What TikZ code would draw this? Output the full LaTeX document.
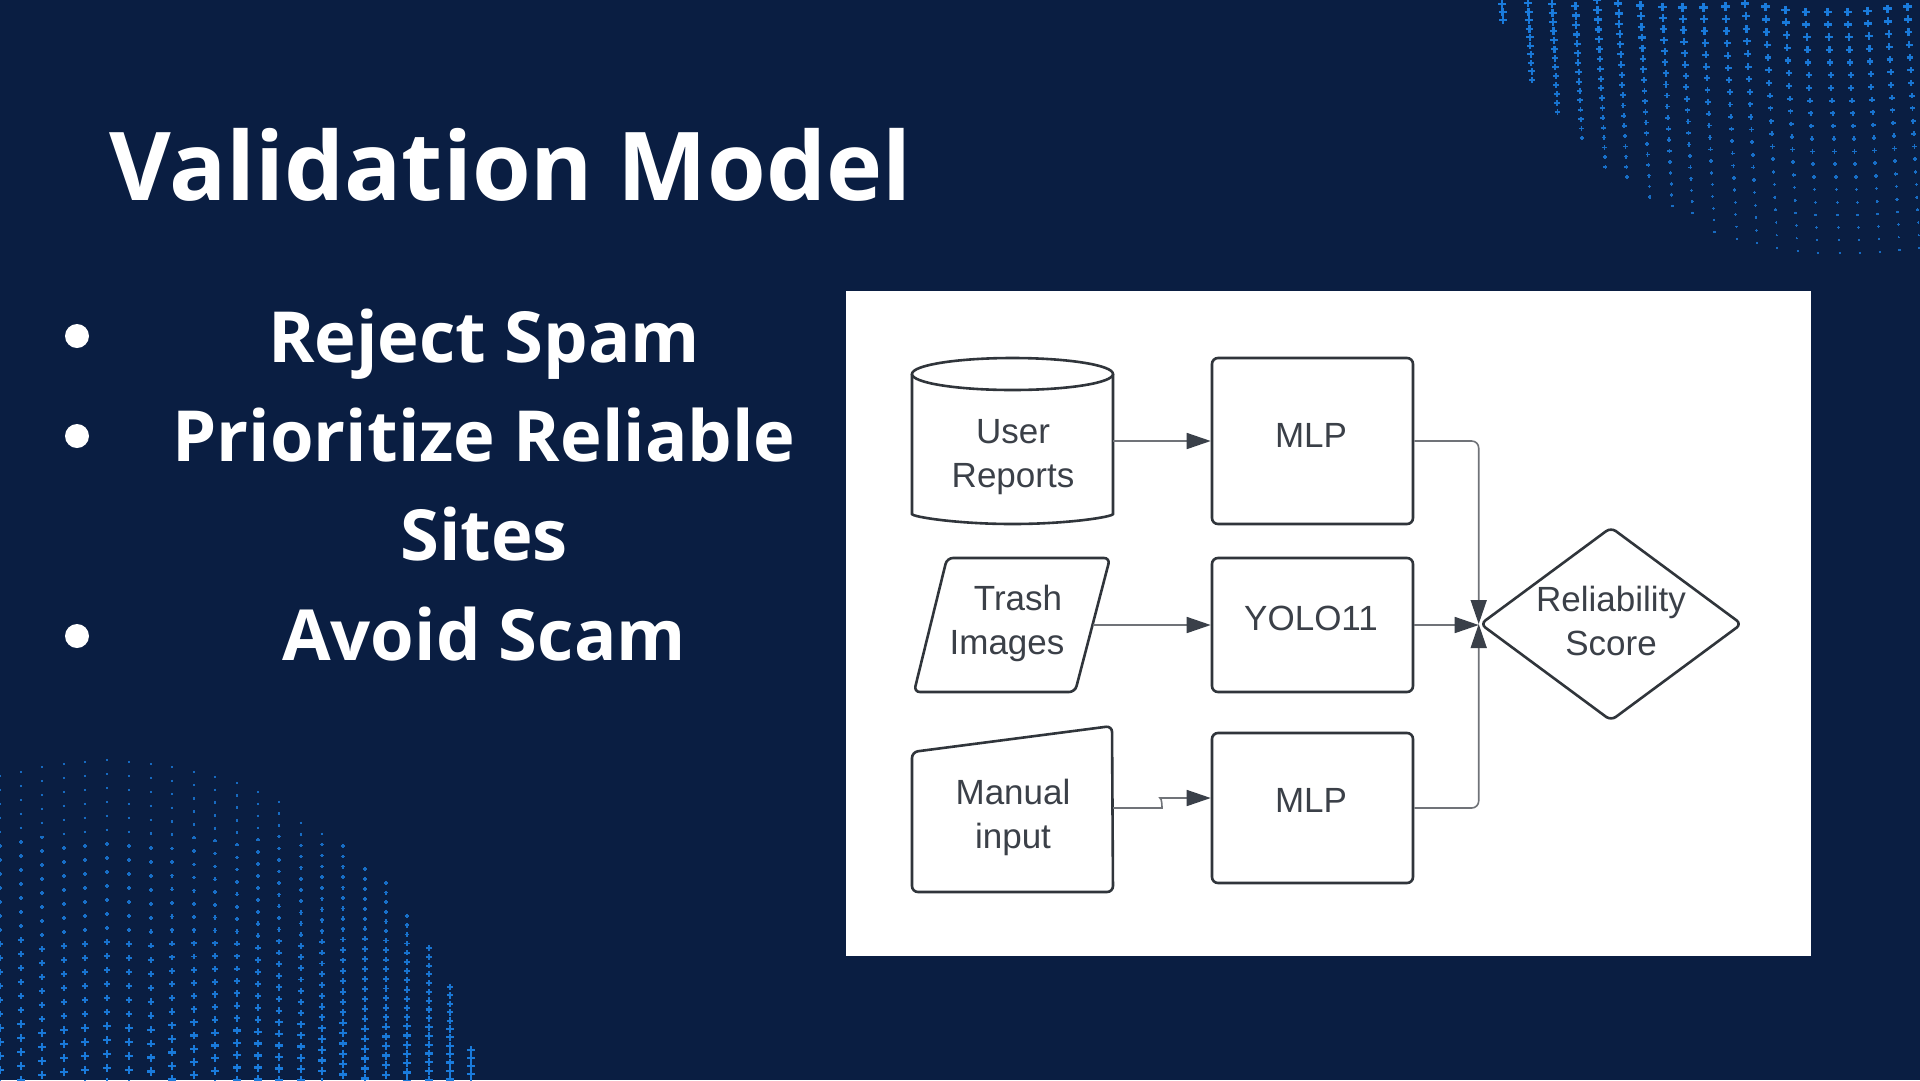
\documentclass[tikz,border=0pt]{standalone}
\usepackage{fontspec}
\setmainfont{Open Sans}
\newfontfamily\diagfont{Liberation Sans}
\usetikzlibrary{arrows.meta,shapes.geometric}

\definecolor{bgc}{HTML}{0A1E42}
\definecolor{plusc}{HTML}{1A7BDC}
\definecolor{boxc}{HTML}{30353B}
\definecolor{txtc}{HTML}{3B4048}
\definecolor{linec}{HTML}{707378}
\definecolor{tipc}{HTML}{3A4049}

\begin{document}
\begin{tikzpicture}[x=1pt,y=-1pt,
  flowbox/.style={draw=boxc, line width=2.6pt, rounded corners=6pt, fill=white,
                  minimum width=201pt, inner sep=0pt},
  outline/.style={draw=boxc, line width=2.6pt, rounded corners=6pt, fill=white},
  anchorbox/.style={inner sep=0pt, outer sep=0pt},
  flowtext/.style={font=\diagfont\fontsize{35}{44}\selectfont, text=txtc,
                   align=center, inner sep=0pt},
  link/.style={draw=linec, line width=1.6pt, rounded corners=7pt},
  tip/.style={-{Triangle[length=24pt,width=16pt,color=tipc]}},
  headline/.style={text=white, inner sep=0pt,
                   font=\bfseries\fontsize{95}{95}\selectfont},
  bullettext/.style={text=white, inner sep=0pt, anchor=base,
                     font=\bfseries\fontsize{70.5}{70.5}\selectfont},
  bulletdot/.style={circle, fill=white, minimum size=24pt, inner sep=0pt}]

% slide background
\fill[bgc] (0,0) rectangle (1920,1080);
\useasboundingbox (0,0) rectangle (1920,1080);

% field of small crosses, upper right corner (columns lean slightly right)
\foreach \cx/\cb in {1502/20,1528/80,1552/112,1575/138,1597/167,1618/177,
                     1640/197,1662/206,1682/213,1703/232,1725/239,1745/243,
                     1765/248,1785/251,1805/253,1827/253,1847/253,1867/252,
                     1887/250,1907/248}{
  \pgfmathsetmacro\colsp{8+4.7*min(1,(\cx-1500)/250)}
  \pgfmathtruncatemacro\nrows{\cb/\colsp}
  \foreach \k in {0,...,\nrows}{
    \pgfmathsetmacro\ppy{\cb-\k*\colsp}
    \pgfmathsetmacro\ppx{\cx+0.05*\ppy}
    \pgfmathsetmacro\pw{2+6.5*((255-\ppy)/255)^1.2}
    \pgfmathsetmacro\parm{\pw/2}
    \pgfmathsetmacro\plw{0.6+0.22*\pw}
    \pgfmathsetmacro\pop{0.75+0.25*min(1,\pw/8)}
    \draw[plusc, line width=\plw pt, opacity=\pop]
      (\ppx-\parm,\ppy) -- (\ppx+\parm,\ppy) (\ppx,\ppy-\parm) -- (\ppx,\ppy+\parm);
  }
}

% field of small crosses, lower left corner
\foreach \cx/\ct in {0/776,21/772,42/767,64/764,85/762,107/760,129/762,151/764,
                     172/767,194/772,215/777,237/783,258/792,279/802,301/823,
                     322/834,343/846,365/869,386/883,407/916,429/948,450/987,
                     471/1050}{
  \pgfmathsetmacro\colsp{ifthenelse(\cx<150,14,14-6*(\cx-150)/321)}
  \pgfmathtruncatemacro\nrows{(1084-\ct)/\colsp}
  \foreach \k in {0,...,\nrows}{
    \pgfmathsetmacro\ppy{\ct+\k*\colsp}
    \pgfmathsetmacro\pw{2+6.5*(max(0,\ppy-760)/320)^1.3}
    \pgfmathsetmacro\parm{\pw/2}
    \pgfmathsetmacro\plw{0.6+0.22*\pw}
    \pgfmathsetmacro\pop{0.75+0.25*min(1,\pw/8)}
    \draw[plusc, line width=\plw pt, opacity=\pop]
      (\cx-\parm,\ppy) -- (\cx+\parm,\ppy) (\cx,\ppy-\parm) -- (\cx,\ppy+\parm);
  }
}

% heading
\node[headline, anchor=base west] (title) at (109,200) {Validation Model};

% bullet list
\node[bulletdot] (dot1) at (77,336) {};
\node[bulletdot] (dot2) at (77,436) {};
\node[bulletdot] (dot3) at (77,636) {};
\node[bullettext] (item1) at (484,362) {Reject Spam};
\node[bullettext] (item2) at (484,461) {Prioritize Reliable};
\node[bullettext] (item2b) at (484,560) {Sites};
\node[bullettext] (item3) at (484,660) {Avoid Scam};

% white panel holding the flow chart
\fill[white] (846,291) rectangle (1811,956);

% data source: user reports (cylinder)
\node[anchorbox, minimum width=201pt, minimum height=166pt] (rep) at (1012.5,441) {};
\draw[outline] (912,374) -- (912,508)
  arc[start angle=180, end angle=0, x radius=100.5, y radius=16] -- (1113,374);
\draw[draw=boxc, line width=2.6pt, fill=white] (1012.5,374) ellipse[x radius=100.5, y radius=16];
\node[flowtext] (rep-t) at (1013,457) {User\\Reports};

% data source: trash images (parallelogram)
\node[anchorbox, minimum width=196pt, minimum height=134pt] (img) at (1012,625) {};
\draw[outline] (947,558) -- (1110,558) -- (1075,692) -- (914,692) -- cycle;
\coordinate (imgout) at (1093,625);
\node[flowtext] (img-t) at (1007,623.5) {\hspace*{22pt}Trash\\Images};

% data source: manual input (sloped top)
\node[anchorbox, minimum width=201pt, minimum height=166pt] (man) at (1012.5,808) {};
\draw[outline] (912,752) -- (1112,726) -- (1113,892) -- (912,892) -- cycle;
\node[flowtext] (man-t) at (1013,817.5) {Manual\\input};

% models
\node[flowbox, minimum height=166pt] (mlp1) at (1312.5,441) {};
\node[flowtext] (mlp1-t) at (1311,435) {MLP};
\node[flowbox, minimum height=134pt] (yolo) at (1312.5,625) {};
\node[flowtext] (yolo-t) at (1311,618) {YOLO11};
\node[flowbox, minimum height=150pt] (mlp2) at (1312.5,808) {};
\node[flowtext] (mlp2-t) at (1311,800.5) {MLP};

% decision
\node[diamond, draw=boxc, line width=2.6pt, fill=white, rounded corners=6pt,
      minimum width=262pt, minimum height=194pt, aspect=1.35, inner sep=0pt]
      (score) at (1611,624) {};
\node[flowtext] (score-t) at (1611,621) {Reliability\\Score};

% connectors
\draw[link, tip] (rep.east) -- (mlp1.west);
\draw[link, tip] (imgout) -- (yolo.west);
\coordinate (mlp2in) at ([yshift=10pt]mlp2.west);
\draw[link, tip] (man.east) -- ++(42,0) .. controls +(7,0) and +(-5,0) .. ++(12,-10) -- (mlp2in);
\draw[link, tip] (mlp1.east) -- (mlp1.east -| score.west) -- (score.west);
\draw[link, tip] (mlp2.east) -- (mlp2.east -| score.west) -- (score.west);
\draw[link, tip] (yolo.east) -- (yolo.east -| score.west);
\end{tikzpicture}
\end{document}
